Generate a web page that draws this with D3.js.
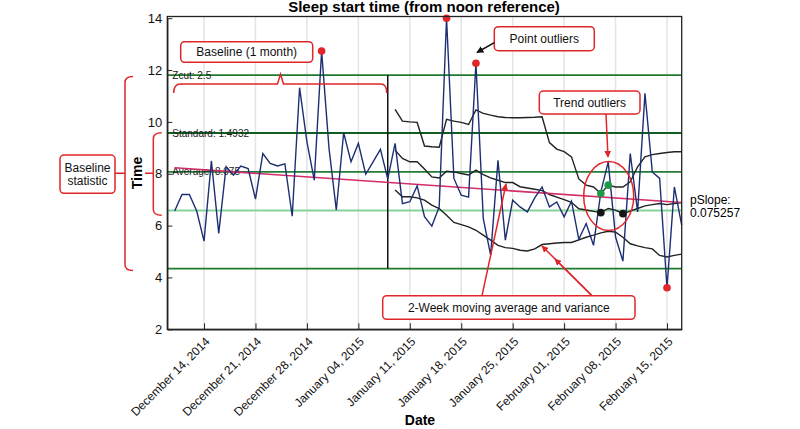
<!DOCTYPE html>
<html>
<head>
<meta charset="utf-8">
<script src="https://cdn.jsdelivr.net/npm/d3@7"></script>
<style>
body { margin: 0; background: #fff; }
svg { font-family: "Liberation Sans", Arial, sans-serif; }
</style>
</head>
<body>
<svg width="800" height="429"></svg>
<script>
// daily sleep start (hours from noon), first value on Dec 10 2014
var sleepStart = "2014-12-10"
var sleepValues = [6.56, 7.2, 7.2, 6.56, 5.4, 8.5, 5.7, 8.27, 7.95, 8.3,
                   8.2, 7.02, 8.78, 8.4, 8.3, 8.38, 6.36, 11.32, 9.23, 7.75,
                   12.73, 9.0, 6.6, 9.58, 8.46, 9.17, 7.98, 8.46, 8.94, 7.8,
                   9.17, 6.85, 6.92, 7.53, 6.34, 5.98, 6.72, 14.0, 7.82, 7.17,
                   7.1, 12.26, 6.27, 4.86, 8.52, 5.44, 6.98, 6.72, 6.53, 7.07,
                   7.49, 6.72, 6.91, 6.34, 6.94, 5.47, 6.08, 5.24, 7.3, 8.46,
                   5.56, 4.63, 8.78, 6.53, 11.1, 8.07, 7.82, 3.6, 7.49, 6.02]

// 2-week moving average and band, first value on Jan 9 2015
var maStart = "2015-01-09"
var maUpper = [10.48, 10.03, 10.0, 9.98, 9.07, 9.04, 9.02, 10.1, 10.03, 9.98,
               9.9, 10.46, 10.33, 10.26, 10.2, 10.17, 10.16, 10.16, 10.17, 10.18,
               10.2, 9.2, 8.95, 8.85, 8.65, 7.8, 7.56, 7.49, 7.24, 7.56,
               7.49, 7.49, 7.69, 8.27, 8.65, 8.74, 8.78, 8.82, 8.85, 8.85]
var maMean = [8.91, 8.59, 8.46, 8.46, 8.18, 7.88, 7.84, 8.1, 8.07, 8.01,
              7.95, 8.14, 7.97, 7.84, 7.75, 7.66, 7.66, 7.5, 7.45, 7.4,
              7.35, 7.2, 7.1, 7.0, 6.9, 6.65, 6.6, 6.55, 6.5, 6.66,
              6.6, 6.46, 6.56, 6.66, 6.76, 6.81, 6.85, 6.81, 6.85, 6.89]
var maLower = [7.37, 7.11, 7.11, 7.07, 6.98, 6.79, 6.66, 6.4, 6.12, 6.04,
               5.95, 5.82, 5.63, 5.44, 5.24, 5.15, 5.12, 5.05, 5.02, 5.1,
               5.27, 5.3, 5.33, 5.35, 5.35, 5.45, 5.55, 5.63, 5.72, 5.78,
               5.75, 5.55, 5.3, 5.22, 5.15, 5.1, 4.85, 4.79, 4.85, 4.9]

var pointOutliers = [20, 37, 41, 67]     // index into sleepValues
var trendUpperDots = [28, 29]            // index into maUpper
var trendMeanDots = [28, 31]             // index into maMean

var baseAverage = 8.075
var baseStandard = 1.4932
var zCut = 2.5
var baselineEnd = "2015-01-08"

var trendDates = ["2014-12-10", "2015-02-17"]
var trendValues = [8.23, 6.89]
var pSlope = "0.075257"

var xDomain = ["2014-12-09", "2015-02-17"]
var tickDates = ["2014-12-14", "2014-12-21", "2014-12-28", "2015-01-04", "2015-01-11",
                 "2015-01-18", "2015-01-25", "2015-02-01", "2015-02-08", "2015-02-15"]
var yTicks = [2, 4, 6, 8, 10, 12, 14]

var svg = d3.select("svg")
var plot = {left: 167.3, right: 681.7, top: 16.5, bottom: 329.3}
var parse = d3.timeParse("%Y-%m-%d")
var fmt = d3.timeFormat("%B %d, %Y")
var red = "#e0262b"

var xScale = d3.scaleTime()
    .domain(xDomain.map(parse))
    .range([plot.left, plot.right])
var yScale = d3.scaleLinear()
    .domain([2, 14])
    .range([329.3, 18.2])

var sleepData = sleepValues.map(function(v, i) {
    return {date: d3.timeDay.offset(parse(sleepStart), i), value: v}
})
var maDates = maMean.map(function(v, i) {
    return d3.timeDay.offset(parse(maStart), i)
})

// arrow heads
var defs = svg.append("defs")
var addMarker = function(id, color) {
    defs.append("marker")
        .attr("id", id)
        .attr("viewBox", "0 0 10 10")
        .attr("refX", 9).attr("refY", 5)
        .attr("markerWidth", 7).attr("markerHeight", 7)
        .attr("markerUnits", "userSpaceOnUse")
        .attr("orient", "auto")
        .append("path")
        .attr("d", "M0,0 L10,5 L0,10 z")
        .attr("fill", color)
}
addMarker("arrowBlack", "#111")
addMarker("arrowRed", red)

// vertical grid
svg.append("g")
    .selectAll("line")
    .data(tickDates.map(parse))
    .enter()
    .append("line")
    .attr("x1", function(d) { return xScale(d) })
    .attr("x2", function(d) { return xScale(d) })
    .attr("y1", plot.top)
    .attr("y2", plot.bottom)
    .attr("stroke", "#e4e4e4")
    .attr("stroke-width", 1.5)

// baseline statistic lines
var statLines = [
    {v: baseAverage + zCut * baseStandard, c: "#1f7a2c", w: 1.8},
    {v: baseAverage + baseStandard, c: "#0f5f1e", w: 2},
    {v: baseAverage, c: "#237d37", w: 1.8},
    {v: baseAverage - baseStandard, c: "#86d49b", w: 1.8},
    {v: baseAverage - zCut * baseStandard, c: "#1f7a2c", w: 1.8}
]
svg.append("g")
    .selectAll("line")
    .data(statLines)
    .enter()
    .append("line")
    .attr("x1", plot.left)
    .attr("x2", plot.right)
    .attr("y1", function(d) { return yScale(d.v) })
    .attr("y2", function(d) { return yScale(d.v) })
    .attr("stroke", function(d) { return d.c })
    .attr("stroke-width", function(d) { return d.w })

// end of baseline
svg.append("line")
    .attr("x1", xScale(parse(baselineEnd)))
    .attr("x2", xScale(parse(baselineEnd)))
    .attr("y1", yScale(baseAverage + zCut * baseStandard))
    .attr("y2", yScale(baseAverage - zCut * baseStandard))
    .attr("stroke", "#111")
    .attr("stroke-width", 1.5)

var statLabels = [
    {t: "Zcut: " + zCut, v: baseAverage + zCut * baseStandard},
    {t: "Standard: " + baseStandard, v: baseAverage + baseStandard},
    {t: "Average: " + baseAverage, v: baseAverage}
]
svg.append("g")
    .selectAll("text")
    .data(statLabels)
    .enter()
    .append("text")
    .attr("x", plot.left + 5)
    .attr("y", function(d) { return yScale(d.v) + 3.5 })
    .attr("font-size", 10)
    .attr("fill", "#222")
    .text(function(d) { return d.t })

// moving average lines
var maLine = d3.line()
    .x(function(d, i) { return xScale(maDates[i]) })
    .y(function(d) { return yScale(d) })
    .curve(d3.curveLinear)
svg.append("g")
    .selectAll("path")
    .data([maUpper, maMean, maLower])
    .enter()
    .append("path")
    .attr("d", maLine)
    .attr("fill", "none")
    .attr("stroke", "#222")
    .attr("stroke-width", 1.4)

// trend line
svg.append("line")
    .attr("x1", xScale(parse(trendDates[0])))
    .attr("x2", xScale(parse(trendDates[1])))
    .attr("y1", yScale(trendValues[0]))
    .attr("y2", yScale(trendValues[1]))
    .attr("stroke", "#d42d6a")
    .attr("stroke-width", 1.6)

// data line
var sleepLine = d3.line()
    .x(function(d) { return xScale(d.date) })
    .y(function(d) { return yScale(d.value) })
svg.append("path")
    .datum(sleepData)
    .attr("d", sleepLine)
    .attr("fill", "none")
    .attr("stroke", "#1d2f73")
    .attr("stroke-width", 1.4)

// outlier dots
svg.append("g")
    .selectAll("circle")
    .data(pointOutliers)
    .enter()
    .append("circle")
    .attr("cx", function(i) { return xScale(sleepData[i].date) })
    .attr("cy", function(i) { return yScale(sleepData[i].value) })
    .attr("r", 3.8)
    .attr("fill", red)

svg.append("g")
    .selectAll("circle")
    .data(trendUpperDots)
    .enter()
    .append("circle")
    .attr("cx", function(i) { return xScale(maDates[i]) })
    .attr("cy", function(i) { return yScale(maUpper[i]) })
    .attr("r", 3.8)
    .attr("fill", "#1c9a45")

svg.append("g")
    .selectAll("circle")
    .data(trendMeanDots)
    .enter()
    .append("circle")
    .attr("cx", function(i) { return xScale(maDates[i]) })
    .attr("cy", function(i) { return yScale(maMean[i]) })
    .attr("r", 3.8)
    .attr("fill", "#151515")

// frame and axes
svg.append("rect")
    .attr("x", plot.left)
    .attr("y", plot.top)
    .attr("width", plot.right - plot.left)
    .attr("height", plot.bottom - plot.top)
    .attr("fill", "none")
    .attr("stroke", "#222")
    .attr("stroke-width", 1.3)

var yAxis = d3.axisLeft(yScale)
    .tickValues(yTicks)
    .tickSizeInner(-5)
    .tickSizeOuter(0)
    .tickPadding(5)
svg.append("g")
    .attr("transform", "translate(" + plot.left + ",0)")
    .call(yAxis)
    .call(function(g) {
        g.select(".domain").attr("stroke", "#222").attr("stroke-width", 1.3)
        g.selectAll("text").attr("font-size", 13).attr("fill", "#111").attr("font-family", null)
        g.selectAll(".tick line").attr("stroke", "#222")
    })

var xAxis = d3.axisBottom(xScale)
    .tickValues(tickDates.map(parse))
    .tickSizeInner(-6)
    .tickSizeOuter(0)
    .tickFormat(fmt)
svg.append("g")
    .attr("transform", "translate(0," + plot.bottom + ")")
    .call(xAxis)
    .call(function(g) {
        g.select(".domain").attr("stroke", "#222").attr("stroke-width", 1.3)
        g.selectAll(".tick line").attr("stroke", "#222")
        g.selectAll("text")
            .attr("font-size", 12)
            .attr("fill", "#111")
            .attr("font-family", null)
            .attr("text-anchor", "end")
            .attr("x", 0).attr("y", 0).attr("dy", "0.35em")
            .attr("transform", "translate(3,10) rotate(-45)")
    })

// titles
svg.append("text")
    .attr("x", 424).attr("y", 12)
    .attr("text-anchor", "middle")
    .attr("font-size", 15).attr("font-weight", "bold")
    .text("Sleep start time (from noon reference)")
svg.append("text")
    .attr("x", 420).attr("y", 425)
    .attr("text-anchor", "middle")
    .attr("font-size", 14).attr("font-weight", "bold")
    .text("Date")
svg.append("text")
    .attr("transform", "translate(142,173) rotate(-90)")
    .attr("text-anchor", "middle")
    .attr("font-size", 14).attr("font-weight", "bold")
    .text("Time")

svg.append("text").attr("x", 690).attr("y", 204).attr("font-size", 12).text("pSlope:")
svg.append("text").attr("x", 690).attr("y", 217).attr("font-size", 12).text(pSlope)

// annotation boxes
var boxes = [
    {x: 180.7, y: 41.7, w: 132, h: 20.6, lines: ["Baseline (1 month)"]},
    {x: 494.3, y: 26.7, w: 100, h: 24, lines: ["Point outliers"]},
    {x: 539.3, y: 91, w: 100.7, h: 23, lines: ["Trend outliers"]},
    {x: 382.7, y: 295.7, w: 252.3, h: 23.6, lines: ["2-Week moving average and variance"]},
    {x: 60, y: 155, w: 55, h: 38.3, lines: ["Baseline", "statistic"]}
]
var boxG = svg.append("g")
    .selectAll("g")
    .data(boxes)
    .enter()
    .append("g")
boxG.append("rect")
    .attr("x", function(d) { return d.x })
    .attr("y", function(d) { return d.y })
    .attr("width", function(d) { return d.w })
    .attr("height", function(d) { return d.h })
    .attr("rx", 4)
    .attr("fill", "#fff")
    .attr("stroke", red)
    .attr("stroke-width", 1.5)
boxG.each(function(d) {
    var g = d3.select(this)
    var n = d.lines.length
    d.lines.forEach(function(t, j) {
        g.append("text")
            .attr("x", d.x + d.w / 2)
            .attr("y", d.y + d.h / 2 + (j - (n - 1) / 2) * 13 + 4.3)
            .attr("text-anchor", "middle")
            .attr("font-size", 12)
            .attr("fill", "#111")
            .text(t)
    })
})

// brackets
var yTop = yScale(baseAverage + zCut * baseStandard) + 1.5
var yBot = yScale(baseAverage - zCut * baseStandard) + 2
var yMid = yScale(baseAverage) + 1.5
var brackets = [
    "M133," + yTop + " Q125," + yTop + " 125," + (yTop + 6) + " L125," + (yBot - 6) +
        " Q125," + yBot + " 133," + yBot + " M115," + yMid + " L125," + yMid,
    "M161.7,132.7 Q153.3,132.7 153.3,138.7 L153.3,209.3 Q153.3,215.3 161.7,215.3 M145," + yMid + " L153.3," + yMid,
    "M" + (xScale(parse(sleepStart)) - 1) + ",93 Q" + (xScale(parse(sleepStart)) - 1) + ",84 " +
        (xScale(parse(sleepStart)) + 6) + ",84 L277.5,84 L280.5,74 L283.5,84 L" +
        (xScale(parse(baselineEnd)) - 7) + ",84 Q" + (xScale(parse(baselineEnd)) - 1) + ",84 " +
        (xScale(parse(baselineEnd)) - 1) + ",93"
]
svg.append("g")
    .selectAll("path")
    .data(brackets)
    .enter()
    .append("path")
    .attr("d", function(d) { return d })
    .attr("fill", "none")
    .attr("stroke", red)
    .attr("stroke-width", 1.5)

// arrows
var arrows = [
    {x1: 494.3, y1: 42.7, x2: 477, y2: 52.5, m: "arrowBlack", c: "#111"},
    {x1: 606, y1: 114, x2: 608, y2: 157, m: "arrowRed", c: red},
    {x1: 482, y1: 295.7, x2: 506, y2: 184, m: "arrowRed", c: red},
    {x1: 592, y1: 295.7, x2: 542, y2: 246, m: "arrowRed", c: red},
    {x1: 592, y1: 295.7, x2: 555, y2: 259, m: "arrowRed", c: red}
]
svg.append("g")
    .selectAll("line")
    .data(arrows)
    .enter()
    .append("line")
    .attr("x1", function(d) { return d.x1 })
    .attr("y1", function(d) { return d.y1 })
    .attr("x2", function(d) { return d.x2 })
    .attr("y2", function(d) { return d.y2 })
    .attr("stroke", function(d) { return d.c })
    .attr("stroke-width", 1.5)
    .attr("marker-end", function(d) { return "url(#" + d.m + ")" })

// trend outlier ellipse
svg.append("ellipse")
    .attr("cx", 608.7).attr("cy", 196)
    .attr("rx", 25).attr("ry", 34.5)
    .attr("fill", "none")
    .attr("stroke", red)
    .attr("stroke-width", 1.5)
</script>
</body>
</html>
